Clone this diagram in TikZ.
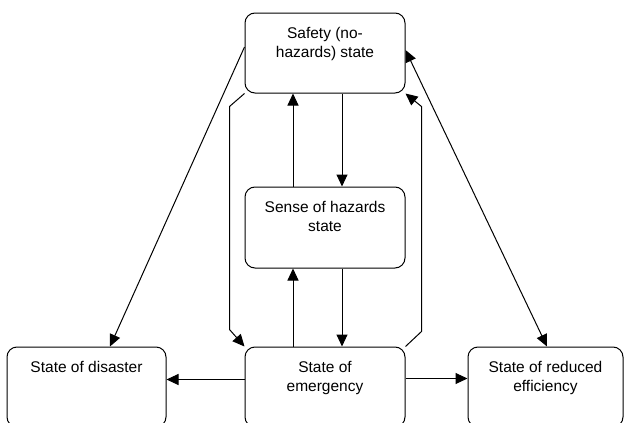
\documentclass[tikz,border=0pt]{standalone}
\usepackage{fontspec}
\setmainfont{Liberation Sans}
\usetikzlibrary{arrows.meta}
\tikzset{
  statebox/.style={draw,rounded corners=10pt,line width=1pt,inner sep=0pt,minimum width=160pt,minimum height=80pt},
  boxtext/.style={anchor=north,align=center,inner sep=0pt,yshift=-14.5pt,font=\fontsize{15.5}{19}\selectfont},
  arr/.style={-{Triangle[length=12pt,width=11pt]},line width=1pt},
  dblarr/.style={{Triangle[length=12pt,width=11pt]}-{Triangle[length=12pt,width=11pt]},line width=1pt}
}
\begin{document}
\begin{tikzpicture}[x=1pt,y=-1pt]
  \clip (0,0) rectangle (624,423);
  \node[statebox,label={[boxtext]north:Safety (no-\\hazards) state}] (safe) at (325,53) {};
  \node[statebox,minimum height=81pt,label={[boxtext]north:Sense of hazards\\state}] (sense) at (325,227.5) {};
  \node[statebox,label={[boxtext]north:State of\\emergency}] (emerg) at (325,387) {};
  \node[statebox,minimum width=159pt,label={[boxtext]north:State of disaster}] (disaster) at (86.5,387) {};
  \node[statebox,minimum width=155pt,label={[boxtext]north:State of reduced\\efficiency}] (reduced) at (545.5,387) {};

  % between the middle boxes
  \draw[arr] ([xshift=17pt]safe.south) -- ([xshift=17pt]sense.north);
  \draw[arr] ([xshift=-32pt]sense.north) -- ([xshift=-32pt]safe.south);
  \draw[arr] ([xshift=17pt]sense.south) -- ([xshift=17pt]emerg.north);
  \draw[arr] ([xshift=-32pt]emerg.north) -- ([xshift=-32pt]sense.south);

  % side loops
  \draw[arr] (safe.south west) -- ++(-15,13) -- ++(0,223) -- (emerg.north west);
  \draw[arr] (emerg.north east) -- ++(16,-15) -- ++(0,-225) -- (safe.south east);

  % to the outer states
  \draw[arr] ([yshift=6pt]safe.west) -- ([xshift=23.5pt]disaster.north);
  \draw[dblarr] ([yshift=3pt]safe.east) -- ([xshift=1.5pt]reduced.north);
  \draw[arr] ([yshift=7.5pt]emerg.west) -- ([yshift=7.5pt]disaster.east);
  \draw[arr] ([yshift=8.5pt]emerg.east) -- ([yshift=8.5pt]reduced.west);
\end{tikzpicture}
\end{document}
